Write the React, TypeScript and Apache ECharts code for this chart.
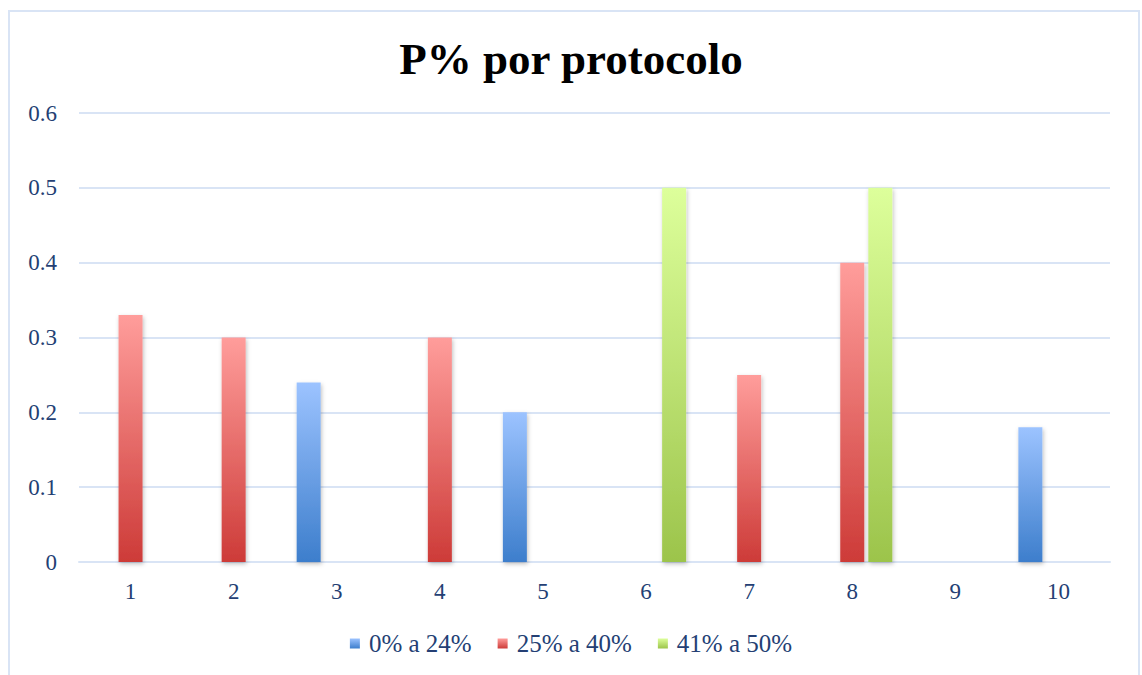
import React, { useEffect, useRef } from "react";
import * as echarts from "echarts";

const categories = ["1", "2", "3", "4", "5", "6", "7", "8", "9", "10"];
const seriesNames = ["0% a 24%", "25% a 40%", "41% a 50%"];
const lowValues = [null, null, 0.24, null, 0.2, null, null, null, null, 0.18];
const midValues = [0.33, 0.3, null, 0.3, null, null, 0.25, 0.4, null, null];
const highValues = [null, null, null, null, null, 0.5, null, 0.5, null, null];
const titleText = "P% por protocolo";

const grad = (top: string, bottom: string) =>
  new echarts.graphic.LinearGradient(0, 0, 0, 1, [
    { offset: 0, color: top },
    { offset: 1, color: bottom },
  ]);

const FONT = "'Liberation Serif', 'DejaVu Serif', serif";
const TEXT_COLOR = "#243f74";
const LINE_COLOR = "#d9e4f5";

export default function App() {
  const ref = useRef<HTMLDivElement>(null);
  useEffect(() => {
    if (!ref.current) return;
    const chart = echarts.init(ref.current, undefined, { renderer: "svg" });
    const mk = (name: string, data: (number | null)[], top: string, bottom: string) => ({
      name,
      type: "bar",
      data,
      barWidth: 24,
      barGap: "17%",
      itemStyle: {
        color: grad(top, bottom),
        shadowBlur: 4,
        shadowColor: "rgba(0,0,0,0.25)",
        shadowOffsetX: 1,
        shadowOffsetY: 2,
      },
    });
    chart.setOption({
      animation: false,
      backgroundColor: "#ffffff",
      title: {
        text: titleText,
        left: "center",
        top: 31,
        textStyle: { fontFamily: FONT, fontSize: 45, fontWeight: "bold", color: "#000000" },
      },
      graphic: [
        {
          type: "rect",
          shape: { x: 9, y: 11, width: 1130, height: 700 },
          style: { fill: "none", stroke: LINE_COLOR, lineWidth: 2 },
          silent: true,
        },
      ],
      legend: {
        bottom: 14,
        left: "center",
        itemWidth: 10,
        itemHeight: 10,
        itemGap: 26,
        icon: "rect",
        textStyle: { fontFamily: FONT, fontSize: 25, color: TEXT_COLOR, padding: [0, 0, 0, 4] },
        data: seriesNames,
      },
      grid: { left: 79, right: 32, top: 113, bottom: 113, containLabel: false },
      xAxis: {
        type: "category",
        data: categories,
        axisLine: { show: true, lineStyle: { color: LINE_COLOR, width: 2 } },
        axisTick: { show: false },
        axisLabel: { fontFamily: FONT, fontSize: 23, color: TEXT_COLOR, margin: 18 },
      },
      yAxis: {
        type: "value",
        min: 0,
        max: 0.6,
        interval: 0.1,
        axisLine: { show: false },
        axisTick: { show: false },
        splitLine: { lineStyle: { color: LINE_COLOR, width: 2 } },
        axisLabel: {
          fontFamily: FONT,
          fontSize: 23,
          color: TEXT_COLOR,
          margin: 22,
          formatter: (v: number) => (v === 0 ? "0" : String(Math.round(v * 10) / 10)),
        },
      },
      series: [
        mk(seriesNames[0], lowValues, "#9cc3ff", "#3d7ecc"),
        mk(seriesNames[1], midValues, "#ff9d9b", "#cd3b38"),
        mk(seriesNames[2], highValues, "#ddff9b", "#9cc44b"),
      ],
    });
    return () => chart.dispose();
  }, []);
  return (
    <div
      ref={ref}
      style={{ position: "fixed", left: 0, top: 0, width: 1142, height: 675 }}
    />
  );
}
